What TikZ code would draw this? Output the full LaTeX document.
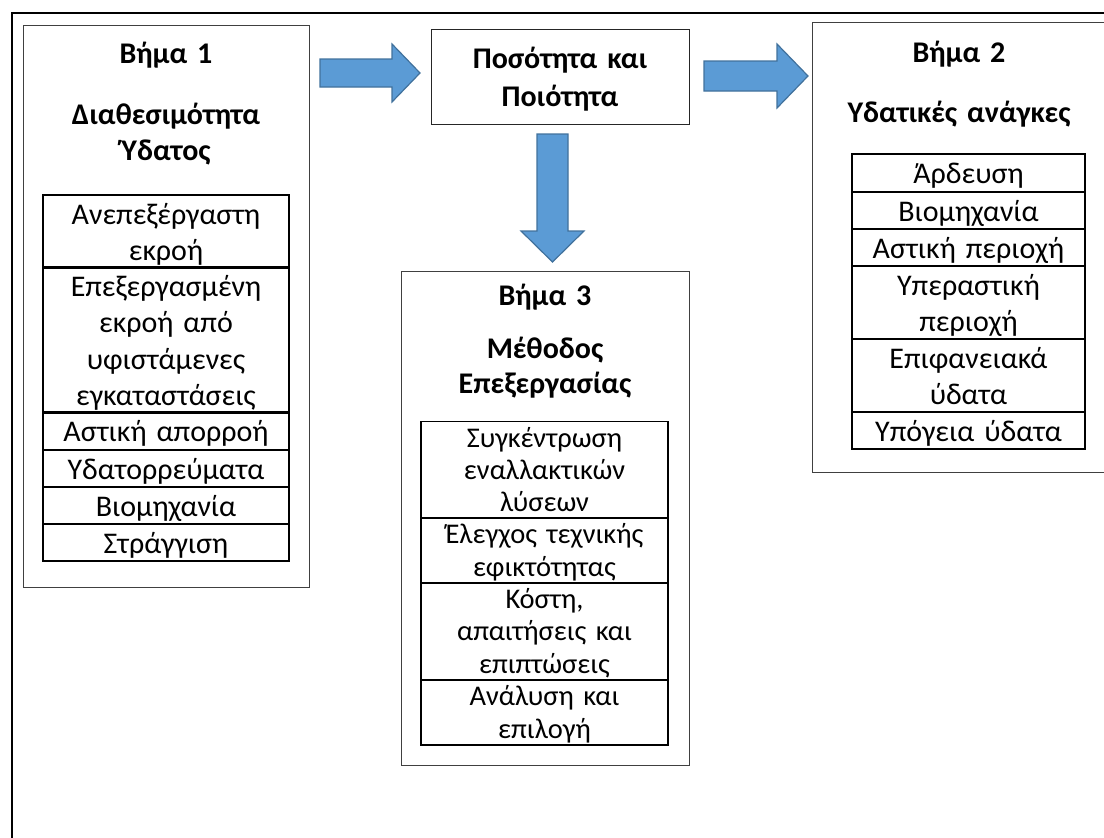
\documentclass[tikz,border=0pt]{standalone}
\usepackage{fontspec}
\setmainfont{Carlito}
\newcommand\cstrut{\rule[-7.5pt]{0pt}{36.5pt}}
\newcommand\tstrut{\rule[-6.8pt]{0pt}{32.3pt}}
\definecolor{arrfill}{RGB}{91,155,213}
\definecolor{arrdraw}{RGB}{65,113,156}
\begin{document}
\begin{tikzpicture}[x=1pt,y=-1pt,
  stepbox/.style={draw=black!75, line width=0.9pt, inner sep=0pt},
  stepline/.style={draw=black!75, line width=0.9pt},
  titletext/.style={font=\fontsize{30}{36}\selectfont\bfseries, align=center, text width=#1, inner sep=0pt, anchor=north, execute at begin node={\parindent0pt\cstrut}},
  cell/.style={draw, line width=1.8pt, inner sep=0pt, font=\fontsize{30}{36.5}\selectfont, align=center, execute at begin node={\parindent0pt\cstrut}, execute at end node=\cstrut},
  tcell/.style={draw, line width=1.8pt, inner sep=0pt, font=\fontsize{28.5}{32.3}\selectfont, align=center, execute at begin node={\parindent0pt\tstrut}, execute at end node=\tstrut},
  ta/.style={cell, minimum width=246pt, text width=240pt},
  tb/.style={cell, minimum width=233pt, text width=228pt},
  tc/.style={tcell, minimum width=247pt, text width=242pt},
  blockarrow/.style={fill=arrfill, draw=arrdraw, line width=1.2pt, line join=miter}
]
\useasboundingbox (0,0) rectangle (1104,838);
% outer frame
\draw[line width=2.5pt] (1104,13) -- (12,13) -- (12,838);

% Step 1 box
\node[stepbox, minimum width=286pt, minimum height=562pt] (b1) at (166,306) {};
\node[titletext=260pt] (b1t) at (166,34) {Βήμα 1};
\node[titletext=260pt] (b1s) at (166,95) {Διαθεσιμότητα\\Ύδατος};
\node[ta, minimum height=73pt]  (a1) at (166,231.5) {Ανεπεξέργαστη\\εκροή};
\node[ta, minimum height=144pt] (a2) at (166,340) {Επεξεργασμένη\\εκροή από\\υφιστάμενες\\εγκαταστάσεις};
\node[ta, minimum height=38pt]  (a3) at (166,431) {Αστική απορροή};
\node[ta, minimum height=37pt]  (a4) at (166,468.5) {Υδατορρεύματα};
\node[ta, minimum height=37pt]  (a5) at (166,505.5) {Βιομηχανία};
\node[ta, minimum height=37pt]  (a6) at (166,542.5) {Στράγγιση};

% Middle box
\node[stepbox, draw=black!85, minimum width=258pt, minimum height=95pt, text width=250pt,
      font=\fontsize{30}{38}\selectfont\bfseries, align=center,
      execute at begin node={\parindent0pt\cstrut}, execute at end node=\cstrut] (mid) at (560,76.5) {Ποσότητα και\\Ποιότητα};

% Step 2 box (runs past the right edge)
\node[inner sep=0pt, minimum width=291pt, minimum height=449pt] (b2) at (958.5,247.5) {};
\draw[stepline] (b2.north east) -- (b2.north west) -- (b2.south west) -- (b2.south east);
\node[titletext=270pt] (b2t) at (959,33) {Βήμα 2};
\node[titletext=270pt] (b2s) at (959,93) {Υδατικές ανάγκες};
\node[tb, minimum height=38pt] (c1) at (968.5,173) {Άρδευση};
\node[tb, minimum height=37pt] (c2) at (968.5,210.5) {Βιομηχανία};
\node[tb, minimum height=37pt] (c3) at (968.5,247.5) {Αστική περιοχή};
\node[tb, minimum height=73pt] (c4) at (968.5,302.5) {Υπεραστική\\περιοχή};
\node[tb, minimum height=73pt] (c5) at (968.5,375.5) {Επιφανειακά\\ύδατα};
\node[tb, minimum height=37pt] (c6) at (968.5,430.5) {Υπόγεια ύδατα};

% Step 3 box
\node[stepbox, minimum width=288pt, minimum height=494pt] (b3) at (545,518) {};
\node[titletext=270pt] (b3t) at (545,276) {Βήμα 3};
\node[titletext=270pt, font=\fontsize{30}{35}\selectfont\bfseries] (b3s) at (545,329) {Μέθοδος\\Επεξεργασίας};
\node[tc, minimum height=96pt] (d1) at (544.5,470) {Συγκέντρωση\\εναλλακτικών\\λύσεων};
\node[tc, minimum height=65pt] (d2) at (544.5,550.5) {Έλεγχος τεχνικής\\εφικτότητας};
\node[tc, minimum height=97pt] (d3) at (544.5,631.5) {Κόστη,\\απαιτήσεις και\\επιπτώσεις};
\node[tc, minimum height=65pt] (d4) at (544.5,712.5) {Ανάλυση και\\επιλογή};

% block arrows
\draw[blockarrow] (320,59) -- (392,59) -- (392,44) -- (420,73) -- (392,102) -- (392,87) -- (320,87) -- cycle;
\draw[blockarrow] (704,61) -- (777,61) -- (777,44) -- (808,76) -- (777,108) -- (777,91) -- (704,91) -- cycle;
\draw[blockarrow] (537,134) -- (568,134) -- (568,231) -- (584,231) -- (552.5,262) -- (521,231) -- (537,231) -- cycle;
\end{tikzpicture}
\end{document}
